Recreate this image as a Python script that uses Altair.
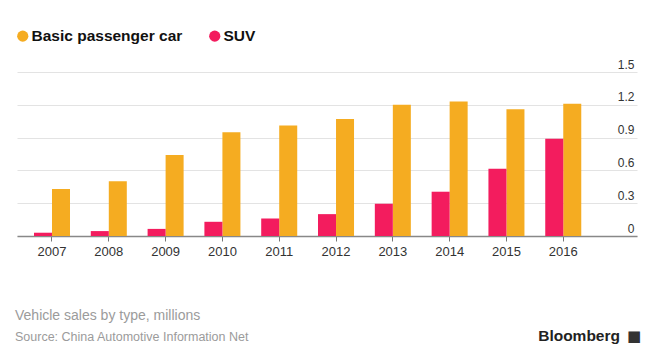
import altair as alt
import pandas as pd

# ---- data ----
years = ["2007", "2008", "2009", "2010", "2011", "2012", "2013", "2014", "2015", "2016"]
basic_car = [0.43, 0.50, 0.74, 0.95, 1.01, 1.07, 1.20, 1.23, 1.16, 1.21]
suv = [0.03, 0.045, 0.065, 0.13, 0.16, 0.20, 0.295, 0.405, 0.615, 0.89]
series = ["Basic passenger car", "SUV"]
colors = ["#F5AC21", "#F31C5E"]
y_ticks = [0, 0.3, 0.6, 0.9, 1.2, 1.5]
note_title = "Vehicle sales by type, millions"
note_source = "Source: China Automotive Information Net"
brand = "Bloomberg"

FONT = "Liberation Sans"

df = pd.DataFrame({
    "year": years * 2,
    "type": [series[0]] * len(years) + [series[1]] * len(years),
    "value": basic_car + suv,
})

bars = alt.Chart(df).mark_bar().encode(
    x=alt.X(
        "year:N",
        scale=alt.Scale(paddingInner=0.366, paddingOuter=0.64, align=0.2335, round=False),
        axis=alt.Axis(
            title=None, labelAngle=0, labelFontSize=13, labelColor="#333333",
            labelFont=FONT, tickColor="#777777", tickSize=5, domainColor="#888888",
            domainWidth=1.5, labelPadding=4, grid=False,
        ),
    ),
    xOffset=alt.XOffset(
        "type:N",
        scale=alt.Scale(domain=["SUV", "Basic passenger car"], paddingInner=0, paddingOuter=0),
    ),
    y=alt.Y(
        "value:Q",
        scale=alt.Scale(domain=[0, 1.5], nice=False),
        axis=alt.Axis(
            orient="right", values=y_ticks, format="~g", title=None,
            labelAlign="right", labelPadding=-3, labelOffset=-4,
            labelBaseline="alphabetic", ticks=False, tickSize=0, domain=False,
            gridColor="#e3e3e3", gridWidth=1, labelFontSize=12,
            labelColor="#333333", labelFont=FONT,
        ),
    ),
    color=alt.Color(
        "type:N",
        scale=alt.Scale(domain=series, range=colors),
        legend=alt.Legend(
            title=None, orient="none", legendX=-2, legendY=-44,
            direction="horizontal", symbolType="circle", symbolSize=125,
            symbolStrokeWidth=0, symbolOpacity=1, labelFontSize=15.5,
            labelFontWeight="bold", labelFont=FONT, labelColor="#111111",
            labelOffset=1, columnPadding=24, labelLimit=300,
        ),
    ),
)

t1 = alt.Chart(pd.DataFrame({"t": [note_title]})).mark_text(
    align="left", baseline="alphabetic", fontSize=14, color="#9b9b9b", font=FONT
).encode(text="t:N", x=alt.value(-2), y=alt.value(248))

t2 = alt.Chart(pd.DataFrame({"t": [note_source]})).mark_text(
    align="left", baseline="alphabetic", fontSize=12.5, color="#9b9b9b", font=FONT
).encode(text="t:N", x=alt.value(-2), y=alt.value(269))

t3 = alt.Chart(pd.DataFrame({"t": [brand]})).mark_text(
    align="right", baseline="alphabetic", fontSize=15.5, fontWeight="bold",
    color="#222222", font=FONT
).encode(text="t:N", x=alt.value(603), y=alt.value(269))

t4 = alt.Chart(pd.DataFrame({"t": ["\u25A0"]})).mark_text(
    align="left", baseline="alphabetic", fontSize=15, color="#333333", font="DejaVu Sans"
).encode(text="t:N", x=alt.value(610), y=alt.value(269))

chart = alt.layer(bars, t1, t2, t3, t4).properties(
    width=620,
    height=164,
    autosize=alt.AutoSizeParams(type="none"),
    padding={"left": 9, "top": 64, "right": 5, "bottom": 110},
    background="white",
).configure_view(stroke=None)

chart.save("out.html", embed_options={"renderer": "svg", "actions": False})
